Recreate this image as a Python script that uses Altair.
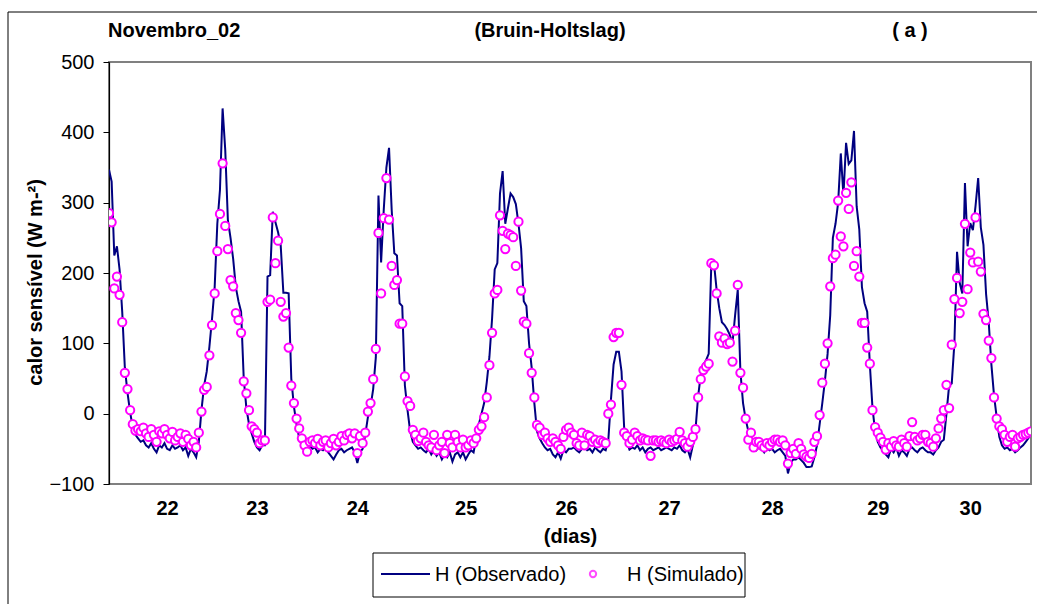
import altair as alt
import pandas as pd

# Observed sensible heat (half-hourly samples), W m-2
obs = [
    347, 330, 225, 238, 205, 145, 65, 30, 2, -20,
    -30, -35, -40, -38, -45, -48, -42, -50, -55, -45,
    -48, -42, -50, -52, -45, -50, -48, -45, -52, -48,
    -60, -50, -55, -62, -40, 5, 40, 60, 95, 135,
    180, 270, 318, 434, 375, 275, 250, 220, 180, 160,
    145, 50, 8, -15, -28, -40, -48, -52, -45, -45,
    195, 197, 287, 272, 258, 239, 172, 172, 171, 50,
    10, -15, -35, -45, -48, -52, -45, -50, -48, -55,
    -50, -52, -48, -55, -60, -65, -58, -52, -50, -55,
    -52, -50, -48, -55, -70, -55, -50, -30, -5, 10,
    35, 80, 310, 215, 290, 350, 378, 290, 228, 225,
    157, 153, 40, 5, -25, -40, -45, -50, -48, -52,
    -55, -50, -58, -52, -60, -55, -65, -58, -62, -55,
    -68, -58, -55, -62, -55, -65, -58, -52, -55, -35,
    -15, 0, 15, 45, 81, 135, 205, 214, 313, 345,
    270, 292, 313, 308, 298, 270, 235, 160, 153, 100,
    65, 15, -25, -35, -42, -48, -52, -50, -58, -62,
    -55, -64, -52, -55, -50, -50, -48, -52, -55, -50,
    -48, -52, -50, -55, -48, -52, -55, -50, -52, -38,
    20, 70, 88, 88, 60, -20, -40, -51, -48, -50,
    -45, -52, -48, -55, -50, -48, -52, -50, -48, -52,
    -50, -48, -50, -52, -48, -50, -45, -52, -55, -50,
    -62, -45, -23, 25, 55, 70, 76, 85, 214, 214,
    176, 150, 130, 126, 120, 112, 100, 140, 176, 60,
    15, -8, -25, -35, -45, -52, -48, -50, -55, -48,
    -52, -50, -55, -52, -50, -55, -60, -85, -70, -65,
    -65, -62, -66, -70, -76, -76, -75, -62, -45, -15,
    15, 47, 85, 140, 250, 270, 300, 370, 310, 385,
    355, 360, 402, 295, 262, 180, 157, 145, 70, 8,
    -25, -40, -48, -52, -58, -62, -50, -55, -48, -60,
    -52, -55, -60, -50, -48, -52, -55, -50, -48, -52,
    -55, -55, -58, -52, -48, -40, -37, 0, 40, 43,
    100, 230, 186, 171, 328, 238, 271, 261, 295, 335,
    265, 240, 170, 130, 70, 26, -5, -33, -45, -50,
    -48, -52, -50, -55, -52, -48, -45, -40, -35, -28,
]

# Simulated sensible heat (Bruin-Holtslag), W m-2
sim = [
    285, 272, 178, 195, 169, 130, 58, 35, 5, -15,
    -24, -22, -25, -20, -28, -33, -22, -30, -40, -25,
    -28, -22, -30, -35, -26, -38, -33, -28, -40, -30,
    -36, -45, -40, -48, -27, 3, 34, 38, 83, 126,
    171, 231, 284, 356, 267, 234, 190, 181, 143, 133,
    115, 46, 29, 5, -18, -22, -27, -42, -38, -38,
    159, 162, 279, 214, 246, 159, 138, 143, 94, 40,
    15, -7, -21, -35, -45, -54, -40, -38, -42, -36,
    -45, -40, -38, -48, -42, -36, -45, -40, -32, -38,
    -30, -28, -35, -28, -56, -32, -42, -27, 3, 15,
    49, 92, 257, 171, 278, 335, 276, 210, 183, 190,
    128, 128, 53, 18, 11, -23, -30, -39, -35, -27,
    -40, -45, -48, -30, -52, -45, -40, -56, -30, -42,
    -48, -30, -40, -48, -37, -48, -45, -38, -42, -35,
    -23, -18, -5, 23, 69, 115, 171, 176, 282, 260,
    234, 256, 254, 251, 210, 273, 175, 131, 128, 86,
    58, 23, -16, -20, -30, -27, -35, -40, -35, -40,
    -45, -50, -33, -23, -20, -27, -30, -42, -45, -27,
    -45, -30, -32, -40, -37, -42, -38, -40, -42, 0,
    13, 109, 115, 115, 41, -27, -32, -42, -37, -27,
    -32, -38, -35, -37, -38, -60, -38, -38, -40, -38,
    -40, -42, -37, -40, -38, -36, -26, -38, -42, -47,
    -40, -33, -22, 23, 49, 62, 67, 71, 214, 211,
    171, 110, 101, 107, 99, 101, 74, 118, 183, 58,
    37, -7, -37, -27, -48, -40, -40, -45, -48, -42,
    -45, -40, -37, -37, -40, -38, -45, -71, -56, -50,
    -57, -42, -50, -58, -61, -63, -57, -40, -32, -2,
    44, 71, 100, 181, 221, 226, 303, 252, 238, 314,
    291, 329, 210, 231, 195, 129, 129, 94, 71, 5,
    -19, -27, -34, -40, -51, -42, -47, -39, -45, -47,
    -37, -42, -47, -32, -12, -33, -38, -35, -30, -30,
    -40, -42, -47, -35, -21, -7, 5, 41, 8, 98,
    163, 193, 143, 159, 270, 177, 229, 215, 279, 216,
    202, 142, 133, 104, 79, 23, -7, -18, -22, -30,
    -40, -33, -30, -47, -35, -33, -30, -29, -27, -25,
]

# x-axis day labels and the sample index where each is printed
tick_pos = [22, 56, 94, 135, 173, 212, 251, 291, 326]
tick_lab = ["22", "23", "24", "25", "26", "27", "28", "29", "30"]
y_ticks = [-100, 0, 100, 200, 300, 400, 500]

series_names = ["H (Observado)", "H (Simulado)"]
titles = ["Novembro_02", "(Bruin-Holtslag)", "( a )"]

FONT = "Liberation Sans"
NAVY = "#000080"
MAG = "#FF00FF"
W, H = 922, 422

df_obs = pd.DataFrame({"i": list(range(len(obs))), "H": obs})
df_sim = pd.DataFrame({"i": list(range(len(sim))), "H": sim})
one = pd.DataFrame({"k": [0]})

n_max = max(len(obs), len(sim)) - 1
xs = alt.Scale(domain=[0, n_max], nice=False, zero=False)
ys = alt.Scale(domain=[-100, 500], nice=False, zero=False)

label_expr = " : ".join(
    f"datum.value == {p} ? '{l}'" for p, l in zip(tick_pos, tick_lab)
) + " : ''"

x_axis = alt.Axis(
    values=tick_pos, labelExpr=label_expr, ticks=False, domain=False, grid=False,
    labelFont=FONT, labelFontSize=20, labelFontWeight="bold", labelColor="black",
    labelPadding=14, labelFlush=False, labelOverlap=False,
    title="(dias)", titleFont=FONT, titleFontSize=20, titleFontWeight="bold",
    titleColor="black", titleBaseline="middle", titleY=52,
)
y_axis = alt.Axis(
    values=y_ticks, format="d", grid=False,
    domain=True, domainColor="black", domainWidth=1.2,
    ticks=True, tickColor="black", tickSize=6, tickWidth=1,
    labelFont=FONT, labelFontSize=20, labelColor="black", labelPadding=9,
    title="calor sensível (W m-²)", titleFont=FONT, titleFontSize=20,
    titleFontWeight="bold", titleColor="black", titleBaseline="middle",
    titleX=-74, titleY=220, titleAngle=270,
)

line = alt.Chart(df_obs).mark_line(color=NAVY, strokeWidth=2, clip=True).encode(
    x=alt.X("i:Q", scale=xs, axis=x_axis),
    y=alt.Y("H:Q", scale=ys, axis=y_axis),
)
pts = alt.Chart(df_sim).mark_point(
    shape="circle", filled=True, fill="white", stroke=MAG, strokeWidth=2,
    size=68, opacity=1, clip=True,
).encode(x=alt.X("i:Q", scale=xs), y=alt.Y("H:Q", scale=ys))

# outer chart-area border (left and top edges)
border_left = alt.Chart(one).mark_rule(color="black", strokeWidth=1).encode(
    x=alt.value(-101), y=alt.value(-50), y2=alt.value(560))
border_top = alt.Chart(one).mark_rule(color="black", strokeWidth=1).encode(
    x=alt.value(-101), x2=alt.value(940), y=alt.value(-50))

def txt(s, x, align, bold=True):
    return alt.Chart(one).mark_text(
        text=s, font=FONT, fontSize=20, fontWeight="bold" if bold else "normal",
        align=align, baseline="middle", color="black",
    ).encode(x=alt.value(x), y=alt.value(-31))

t1 = txt(titles[0], -1, "left")
t2 = txt(titles[1], 441, "center")
t3 = txt(titles[2], 801, "center")

# legend
leg_box = alt.Chart(one).mark_rect(fill="white", stroke="black", strokeWidth=1).encode(
    x=alt.value(264), x2=alt.value(636), y=alt.value(491), y2=alt.value(535))
leg_line = alt.Chart(one).mark_rule(color=NAVY, strokeWidth=2).encode(
    x=alt.value(272), x2=alt.value(321), y=alt.value(512))
leg_pt = alt.Chart(one).mark_point(
    shape="circle", filled=True, fill="white", stroke=MAG, strokeWidth=2, size=40
).encode(x=alt.value(484), y=alt.value(512))
leg_t1 = alt.Chart(one).mark_text(
    text=series_names[0], font=FONT, fontSize=20, align="left", baseline="middle",
    color="black").encode(x=alt.value(326), y=alt.value(513))
leg_t2 = alt.Chart(one).mark_text(
    text=series_names[1], font=FONT, fontSize=20, align="left", baseline="middle",
    color="black").encode(x=alt.value(518), y=alt.value(513))

chart = alt.layer(
    line, pts, border_left, border_top, t1, t2, t3,
    leg_box, leg_line, leg_pt, leg_t1, leg_t2,
).properties(
    width=W, height=H,
    autosize=alt.AutoSizeParams(type="none"),
    padding={"left": 109, "top": 62, "right": 6, "bottom": 120},
    background="white",
).configure_view(
    stroke="#808080", strokeWidth=2,
)

chart.save("out.html", embed_options={"renderer": "svg", "actions": False})
